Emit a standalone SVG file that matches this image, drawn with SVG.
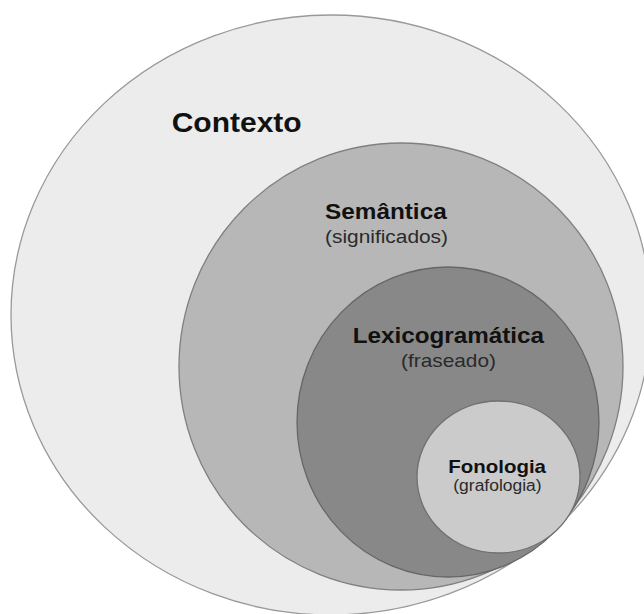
<svg xmlns="http://www.w3.org/2000/svg" width="644" height="614" viewBox="0 0 644 614">
  <style>
    .t { font-family: "Liberation Sans", Arial, sans-serif; font-weight: bold; fill: #111; }
    .s { font-family: "Liberation Sans", Arial, sans-serif; fill: #2a2a2a; }
    .ring { stroke-width: 1.3; }
  </style>
  <rect width="644" height="614" fill="#ffffff"/>
  <g id="contexto">
    <ellipse class="ring" cx="331" cy="315" rx="320" ry="300" fill="#ececec" stroke="#999999"/>
    <text class="t" x="171.7" y="132" font-size="27" textLength="130" lengthAdjust="spacingAndGlyphs">Contexto</text>
  </g>
  <g id="semantica">
    <ellipse class="ring" cx="401" cy="366.5" rx="222" ry="223.5" fill="#b7b7b7" stroke="#808080"/>
    <text class="t" x="325" y="219.3" font-size="21.5" textLength="121.7" lengthAdjust="spacingAndGlyphs">Semântica</text>
    <text class="s" x="325" y="242.5" font-size="18" textLength="123" lengthAdjust="spacingAndGlyphs">(significados)</text>
  </g>
  <g id="lexicogramatica">
    <ellipse class="ring" cx="448" cy="422" rx="151" ry="155" fill="#888888" stroke="#666666"/>
    <text class="t" x="352.7" y="342.7" font-size="22" textLength="191.3" lengthAdjust="spacingAndGlyphs">Lexicogramática</text>
    <text class="s" x="401" y="367" font-size="19" textLength="95" lengthAdjust="spacingAndGlyphs">(fraseado)</text>
  </g>
  <g id="fonologia">
    <ellipse class="ring" cx="498.5" cy="477" rx="81.5" ry="76" fill="#cbcbcb" stroke="#707070"/>
    <text class="t" x="448.3" y="472.7" font-size="18.6" textLength="97.7" lengthAdjust="spacingAndGlyphs">Fonologia</text>
    <text class="s" x="453.3" y="491.3" font-size="16" textLength="88.3" lengthAdjust="spacingAndGlyphs">(grafologia)</text>
  </g>
  <g id="connectors"/>
</svg>
